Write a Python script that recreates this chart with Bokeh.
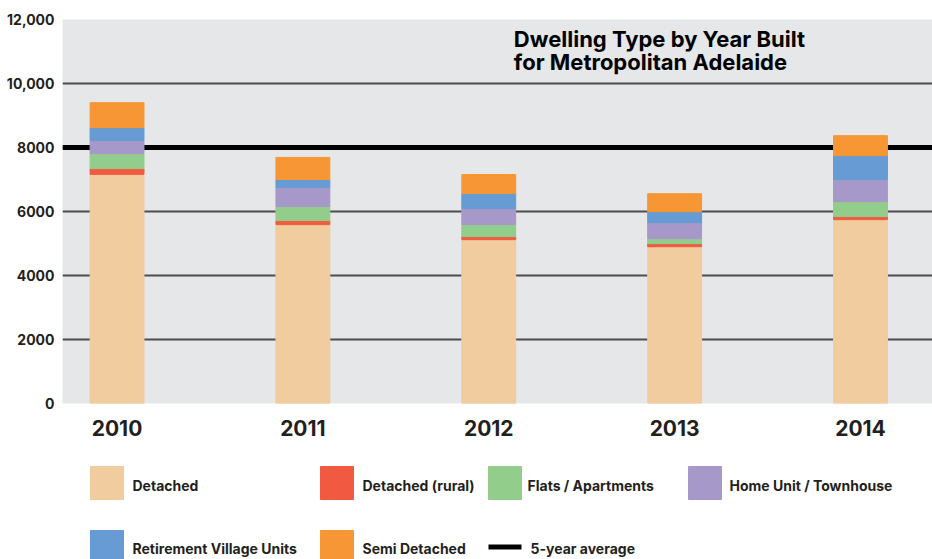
from bokeh.plotting import figure
from bokeh.models import ColumnDataSource, Range1d, FixedTicker, Span, Label
from bokeh.layouts import column
from bokeh.embed import file_html
from bokeh.resources import INLINE
from bokeh.core.properties import value

# ---- data ----
years = ["2010", "2011", "2012", "2013", "2014"]
detached = [7160, 5590, 5120, 4900, 5745]
detached_rural = [180, 125, 95, 95, 95]
flats = [470, 440, 375, 155, 470]
home_unit = [405, 595, 500, 500, 685]
retirement = [405, 250, 470, 345, 750]
semi = [780, 690, 595, 560, 625]
five_year_avg = 8000

series_names = ["Detached", "Detached (rural)", "Flats / Apartments",
                "Home Unit / Townhouse", "Retirement Village Units", "Semi Detached"]
series_values = [detached, detached_rural, flats, home_unit, retirement, semi]
colors = ["#f0cc9e", "#f15a40", "#93cd8b", "#a699ca", "#669bd3", "#f79634"]
avg_label = "5-year average"

y_ticks = [0, 2000, 4000, 6000, 8000, 10000, 12000]
y_tick_labels = ["0", "2000", "4000", "6000", "8000", "10,000", "12,000"]
title_lines = ["Dwelling Type by Year Built", "for Metropolitan Adelaide"]

FONT = "Inter"
TXT = "#231f20"
W = 932
LEFT = 62

# ---- main chart ----
xs = list(range(len(years)))
data = {"x": xs}
keys = []
for i, vals in enumerate(series_values):
    k = f"s{i}"
    keys.append(k)
    data[k] = vals
src = ColumnDataSource(data)

p = figure(width=W, height=448, x_range=Range1d(-0.2934, 4.3874), y_range=Range1d(0, 12000),
           output_backend="svg", toolbar_location=None,
           min_border_left=LEFT, min_border_right=0, min_border_top=19, min_border_bottom=45)
p.background_fill_color = "#e6e7e8"
p.border_fill_color = "white"
p.outline_line_color = None

p.add_layout(Span(location=five_year_avg, dimension="width", line_color="black",
                  line_width=5, level="underlay"))

p.vbar_stack(keys, x="x", width=0.29, source=src, color=colors)

p.xgrid.visible = False
p.ygrid.ticker = FixedTicker(ticks=y_ticks)
p.ygrid.grid_line_color = "#4d4d4f"
p.ygrid.grid_line_width = 2

p.xaxis.ticker = FixedTicker(ticks=xs)
p.xaxis.major_label_overrides = {i: y for i, y in enumerate(years)}
p.yaxis.ticker = FixedTicker(ticks=y_ticks)
p.yaxis.major_label_overrides = {t: l for t, l in zip(y_ticks, y_tick_labels)}
for ax in (p.xaxis, p.yaxis):
    ax.axis_line_color = None
    ax.major_tick_line_color = None
    ax.minor_tick_line_color = None
    ax.major_tick_out = 0
    ax.major_tick_in = 0
    ax.major_label_text_font = FONT
    ax.major_label_text_font_style = "bold"
    ax.major_label_text_color = TXT
p.xaxis.major_label_text_font_size = "21px"
p.xaxis.major_label_standoff = 16
p.yaxis.major_label_text_font_size = "14px"
p.yaxis.major_label_standoff = 8

for line, ty in zip(title_lines, [11380, 10660]):
    p.add_layout(Label(x=2.135, y=ty, text=line, text_font=FONT, text_font_style="bold",
                       text_font_size="22px", text_color="black", text_align="left",
                       text_baseline="alphabetic"))

# ---- legend (pixel-space figure, frame aligned with the chart) ----
LH = 559 - 448
lg = figure(width=W, height=LH, x_range=Range1d(LEFT, W), y_range=Range1d(559, 448),
            output_backend="svg", toolbar_location=None, x_axis_type=None, y_axis_type=None,
            min_border_left=LEFT, min_border_right=0, min_border_top=0, min_border_bottom=0)
lg.outline_line_color = None
lg.grid.visible = False
lg.background_fill_color = "white"

col_left = [90, 320, 488, 688]
col_text = [132, 362, 527, 729]
row_sw_y = [482.5, 546.5]
row_tx_y = [485, 548]

sw_x, sw_y, sw_c, tx_x, tx_y, tx_t = [], [], [], [], [], []
for i, (name, c) in enumerate(zip(series_names, colors)):
    r, cidx = (0, i) if i < 4 else (1, i - 4)
    sw_x.append(col_left[cidx] + 16.5)
    sw_y.append(row_sw_y[r])
    sw_c.append(c)
    tx_x.append(col_text[cidx])
    tx_y.append(row_tx_y[r])
    tx_t.append(name)
lg.rect(x=sw_x, y=sw_y, width=33, height=33, color=sw_c)
# average line entry
lg.line(x=[col_left[2], col_left[2] + 33], y=[row_sw_y[1]] * 2, line_color="black", line_width=5)
tx_x.append(col_left[2] + 42)
tx_y.append(row_tx_y[1])
tx_t.append(avg_label)

lg.text(x=tx_x, y=tx_y, text=tx_t, text_font=value(FONT), text_font_style="bold",
        text_font_size="14px", text_color=TXT, text_baseline="middle", text_align="left")

layout = column(p, lg, spacing=0)
open("out.html", "w").write(file_html(layout, INLINE))
